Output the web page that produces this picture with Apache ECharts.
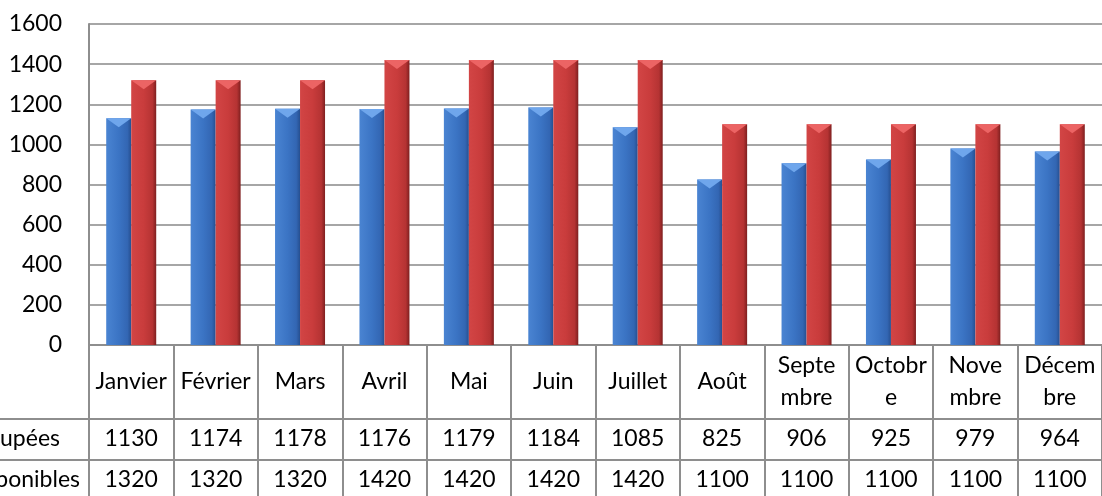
<!DOCTYPE html>
<html>
<head>
<meta charset="utf-8">
<script src="https://cdn.jsdelivr.net/npm/echarts@6/dist/echarts.min.js"></script>
<style>
  html, body { margin: 0; padding: 0; background: #fff; }
  #chart { width: 1102px; height: 496px; }
</style>
</head>
<body>
<div id="chart"></div>
<script>
// données du tableau
const months = ['Janvier', 'Février', 'Mars', 'Avril', 'Mai', 'Juin', 'Juillet', 'Août',
  'Septe\nmbre', 'Octobr\ne', 'Nove\nmbre', 'Décem\nbre'];
const occupees = [1130, 1174, 1178, 1176, 1179, 1184, 1085, 825, 906, 925, 979, 964];
const disponibles = [1320, 1320, 1320, 1420, 1420, 1420, 1420, 1100, 1100, 1100, 1100, 1100];
const rowNames = ['Chambres occupées', 'Chambres disponibles'];
const yTicks = { min: 0, max: 1600, step: 200 };

const FONT = 'Lato';
const FS = 23;
const LINE = '#8e8e8e';
const GRID_LINE = '#a6a6a6';

const chart = echarts.init(document.getElementById('chart'));

function hGrad(stops) {
  return new echarts.graphic.LinearGradient(0, 0, 1, 0, stops);
}
const blueFill = hGrad([
  { offset: 0, color: '#4a84d2' },
  { offset: 0.5, color: '#3b74c4' },
  { offset: 0.85, color: '#3366b3' },
  { offset: 1, color: '#264f90' }
]);
const redFill = hGrad([
  { offset: 0, color: '#d24545' },
  { offset: 0.5, color: '#c93c3c' },
  { offset: 0.85, color: '#b53333' },
  { offset: 1, color: '#7e1f1f' }
]);

const rowAxis = (data, offset) => ({
  type: 'category',
  data: data,
  position: 'bottom',
  offset: offset,
  axisLine: { show: true, lineStyle: { color: LINE, width: 2 } },
  axisTick: { show: false },
  axisLabel: {
    interval: 0, margin: 20, verticalAlign: 'middle',
    color: '#000', fontFamily: FONT, fontSize: FS
  },
  splitLine: { show: false }
});

chart.setOption({
  animation: false,
  grid: { left: 89, right: -2, top: 24, bottom: 151 },
  xAxis: [
    {
      type: 'category',
      data: months,
      position: 'bottom',
      axisLine: { show: true, lineStyle: { color: LINE, width: 2 } },
      axisTick: { show: true, length: 160, lineStyle: { color: LINE, width: 2 } },
      axisLabel: {
        interval: 0, margin: 37, verticalAlign: 'middle', lineHeight: 32,
        color: '#000', fontFamily: FONT, fontSize: FS
      }
    },
    rowAxis(occupees.map(String), 74),
    rowAxis(disponibles.map(String), 115)
  ],
  yAxis: {
    type: 'value',
    min: yTicks.min,
    max: yTicks.max,
    interval: yTicks.step,
    axisLine: { show: true, lineStyle: { color: LINE, width: 2 } },
    axisTick: { show: false },
    axisLabel: {
      margin: 27, color: '#000', fontFamily: FONT, fontSize: FS,
      formatter: v => String(v)
    },
    splitLine: { lineStyle: { color: GRID_LINE, width: 2 } }
  },
  series: [
    {
      name: rowNames[0], type: 'bar', data: occupees,
      barWidth: 25, barGap: '0%',
      itemStyle: { color: blueFill }
    },
    {
      name: rowNames[1], type: 'bar', data: disponibles,
      barWidth: 25, barGap: '0%',
      itemStyle: { color: redFill }
    },
    {
      type: 'pictorialBar', data: occupees, barWidth: 25, barGap: '0%', z: 3,
      symbol: 'path://M0,0 L10,0 L5,4 Z', symbolSize: ['100%', 9],
      symbolPosition: 'end',
      itemStyle: { color: '#6fa6ec' }
    },
    {
      type: 'pictorialBar', data: disponibles, barWidth: 25, barGap: '0%', z: 3,
      symbol: 'path://M0,0 L10,0 L5,4 Z', symbolSize: ['100%', 9],
      symbolPosition: 'end',
      itemStyle: { color: '#ec6464' }
    }
  ],
  graphic: [
    { type: 'line', shape: { x1: 0, y1: 419, x2: 89, y2: 419 }, style: { stroke: LINE, lineWidth: 2 } },
    { type: 'line', shape: { x1: 0, y1: 460, x2: 89, y2: 460 }, style: { stroke: LINE, lineWidth: 2 } },
    { type: 'text', x: 60, y: 439, style: { text: rowNames[0], align: 'right', verticalAlign: 'middle', font: FS + 'px ' + FONT, fill: '#000' } },
    { type: 'text', x: 80, y: 480, style: { text: rowNames[1], align: 'right', verticalAlign: 'middle', font: FS + 'px ' + FONT, fill: '#000' } }
  ]
});
</script>
</body>
</html>
